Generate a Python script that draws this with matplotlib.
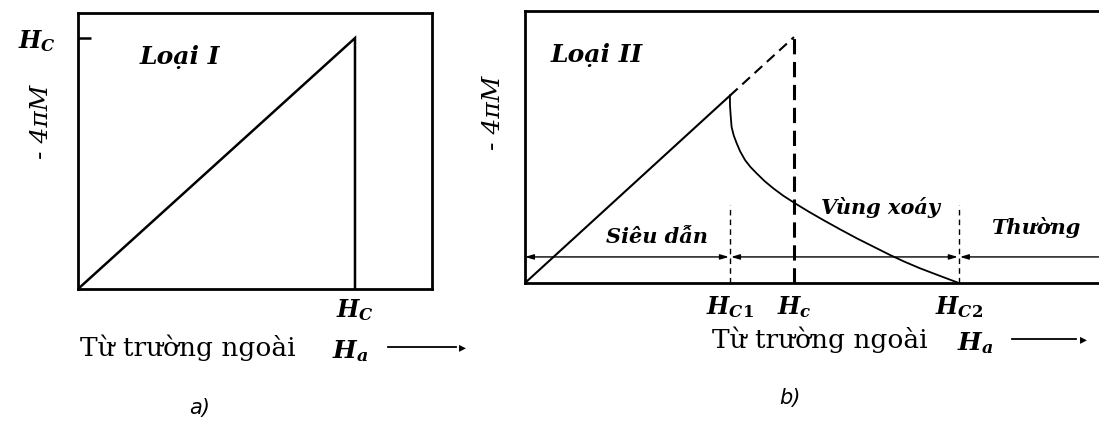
import matplotlib.pyplot as plt

plt.rcParams["font.family"] = ["DejaVu Serif"]
plt.rcParams["mathtext.fontset"] = "custom"
plt.rcParams["mathtext.it"] = "DejaVu Serif:italic:bold"
plt.rcParams["mathtext.rm"] = "DejaVu Serif:bold"
plt.rcParams["mathtext.bf"] = "DejaVu Serif:bold"

# Type I: magnetisation rises linearly up to Hc, then drops to zero
type1_x = [0, 1.0, 1.0]
type1_y = [0, 1.0, 0]

# Type II: critical fields (in units of Hc)
hc1 = 0.762
hc = 1.0
hc2 = 1.613

# linear Meissner part up to Hc1
rise_x = [0, hc1]
rise_y = [0, hc1]
# ideal continuation up to Hc (dashed)
ideal_x = [hc1, hc]
ideal_y = [hc1, hc]
# vortex region: -4πM falls from Hc1 to zero at Hc2
curve_x = [0.762, 0.762, 0.764, 0.768, 0.776, 0.787, 0.80, 0.818, 0.838, 0.861, 0.89, 0.923,
           0.96, 1.004, 1.055, 1.109, 1.17, 1.233, 1.295, 1.357, 1.41, 1.468, 1.54, 1.613]
curve_y = [0.762, 0.725, 0.69, 0.635, 0.60, 0.568, 0.535, 0.50, 0.472, 0.446, 0.415, 0.385,
           0.355, 0.324, 0.29, 0.256, 0.219, 0.182, 0.148, 0.114, 0.087, 0.060, 0.03, 0.0]

region_y = 0.106
region_label_y = 0.317

W, H = 1099, 424
fig = plt.figure(figsize=(W / 100, H / 100), dpi=100)


def fx(px):
    return px / W


def fy(py):
    return 1 - py / H


lab_kw = dict(fontsize=18, fontweight="bold", fontstyle="italic")
zone_kw = dict(fontsize=15, fontweight="bold", fontstyle="italic", ha="center", va="center")

# ---------- a) Loại I ----------
ax_a = fig.add_axes([fx(78), fy(289), fx(432) - fx(78), fy(13) - fy(289)])
ax_a.plot(type1_x, type1_y, color="black", lw=1.8, solid_joinstyle="miter")
ax_a.set_xlim(0, 1.278)
ax_a.set_ylim(0, 1.10)
for s in ax_a.spines.values():
    s.set_linewidth(2.0)
ax_a.set_xticks([1.0])
ax_a.set_xticklabels([r"$H_C$"], fontsize=17)
ax_a.set_yticks([1.0])
ax_a.set_yticklabels([r"$H_C$"], fontsize=17)
ax_a.tick_params(axis="x", length=0, pad=6)
ax_a.tick_params(axis="y", direction="in", length=9, width=1.8, pad=16)
ax_a.text(0.175, 0.84, "Loại I", transform=ax_a.transAxes, va="center", **lab_kw)

fig.text(fx(42), fy(122), "- 4πM", rotation=90, ha="center", va="center",
         fontsize=18, fontstyle="italic")
fig.text(fx(80), fy(348), "Từ trường ngoài", ha="left", va="center", fontsize=19)
fig.text(fx(350), fy(351), r"$H_a$", ha="center", va="center", fontsize=18)
fig.add_artist(plt.Line2D([fx(388), fx(456)], [fy(347), fy(347)], color="black", lw=1.3))
fig.text(fx(466), fy(347), "▸", ha="right", va="center", fontsize=10, family="DejaVu Sans")
fig.text(fx(200), fy(408), "a)", ha="center", va="center", fontsize=15,
         fontstyle="italic", family="DejaVu Sans")

# ---------- b) Loại II ----------
ax_b = fig.add_axes([fx(525), fy(283), 1 - fx(525), fy(11) - fy(283)])
ax_b.set_xlim(0, 2.134)
ax_b.set_ylim(0, 1.106)
for s in ax_b.spines.values():
    s.set_linewidth(2.0)
ax_b.spines["right"].set_visible(False)

ax_b.plot(rise_x, rise_y, color="black", lw=1.5)
ax_b.plot(ideal_x, ideal_y, color="black", lw=1.5, ls=(0, (5, 3)))
ax_b.plot([hc, hc], [0, 1.0], color="black", lw=2.2, ls=(0, (5, 2.5)))
ax_b.plot(curve_x, curve_y, color="black", lw=1.3)
ax_b.plot([hc1, hc1], [0, region_label_y], color="black", lw=1.0, ls=(0, (4, 3)))
ax_b.plot([hc2, hc2], [0, region_label_y], color="black", lw=1.0, ls=(0, (4, 3)))

arrow_kw = dict(arrowstyle="<|-|>,head_length=0.5,head_width=0.15", color="black",
                lw=1.0, shrinkA=0, shrinkB=0)
ax_b.annotate("", xy=(hc1 - 0.004, region_y), xytext=(0.0, region_y), arrowprops=arrow_kw)
ax_b.annotate("", xy=(hc2 - 0.004, region_y), xytext=(hc1 + 0.004, region_y), arrowprops=arrow_kw)
ax_b.annotate("", xy=(hc2 + 0.004, region_y), xytext=(2.134, region_y),
              arrowprops=dict(arrowstyle="-|>,head_length=0.5,head_width=0.15", color="black",
                              lw=1.0, shrinkA=0, shrinkB=0))

ax_b.set_xticks([hc1, hc, hc2])
ax_b.set_xticklabels([r"$H_{C1}$", r"$H_c$", r"$H_{C2}$"], fontsize=17)
ax_b.set_yticks([])
ax_b.tick_params(axis="x", length=0, pad=8)

ax_b.text(0.044, 0.838, "Loại II", transform=ax_b.transAxes, va="center", **lab_kw)
ax_b.text(0.49, 0.187, "Siêu dẫn", **zone_kw)
ax_b.text(1.32, 0.309, "Vùng xoáy", **zone_kw)
ax_b.text(1.90, 0.224, "Thường", **zone_kw)

fig.text(fx(494), fy(113), "- 4πM", rotation=90, ha="center", va="center",
         fontsize=18, fontstyle="italic")
fig.text(fx(712), fy(340), "Từ trường ngoài", ha="left", va="center", fontsize=19)
fig.text(fx(975), fy(343), r"$H_a$", ha="center", va="center", fontsize=18)
fig.add_artist(plt.Line2D([fx(1012), fx(1076)], [fy(339), fy(339)], color="black", lw=1.3))
fig.text(fx(1087), fy(339), "▸", ha="right", va="center", fontsize=10, family="DejaVu Sans")
fig.text(fx(790), fy(398), "b)", ha="center", va="center", fontsize=15,
         fontstyle="italic", family="DejaVu Sans")

fig.savefig("out.png", dpi=100)
